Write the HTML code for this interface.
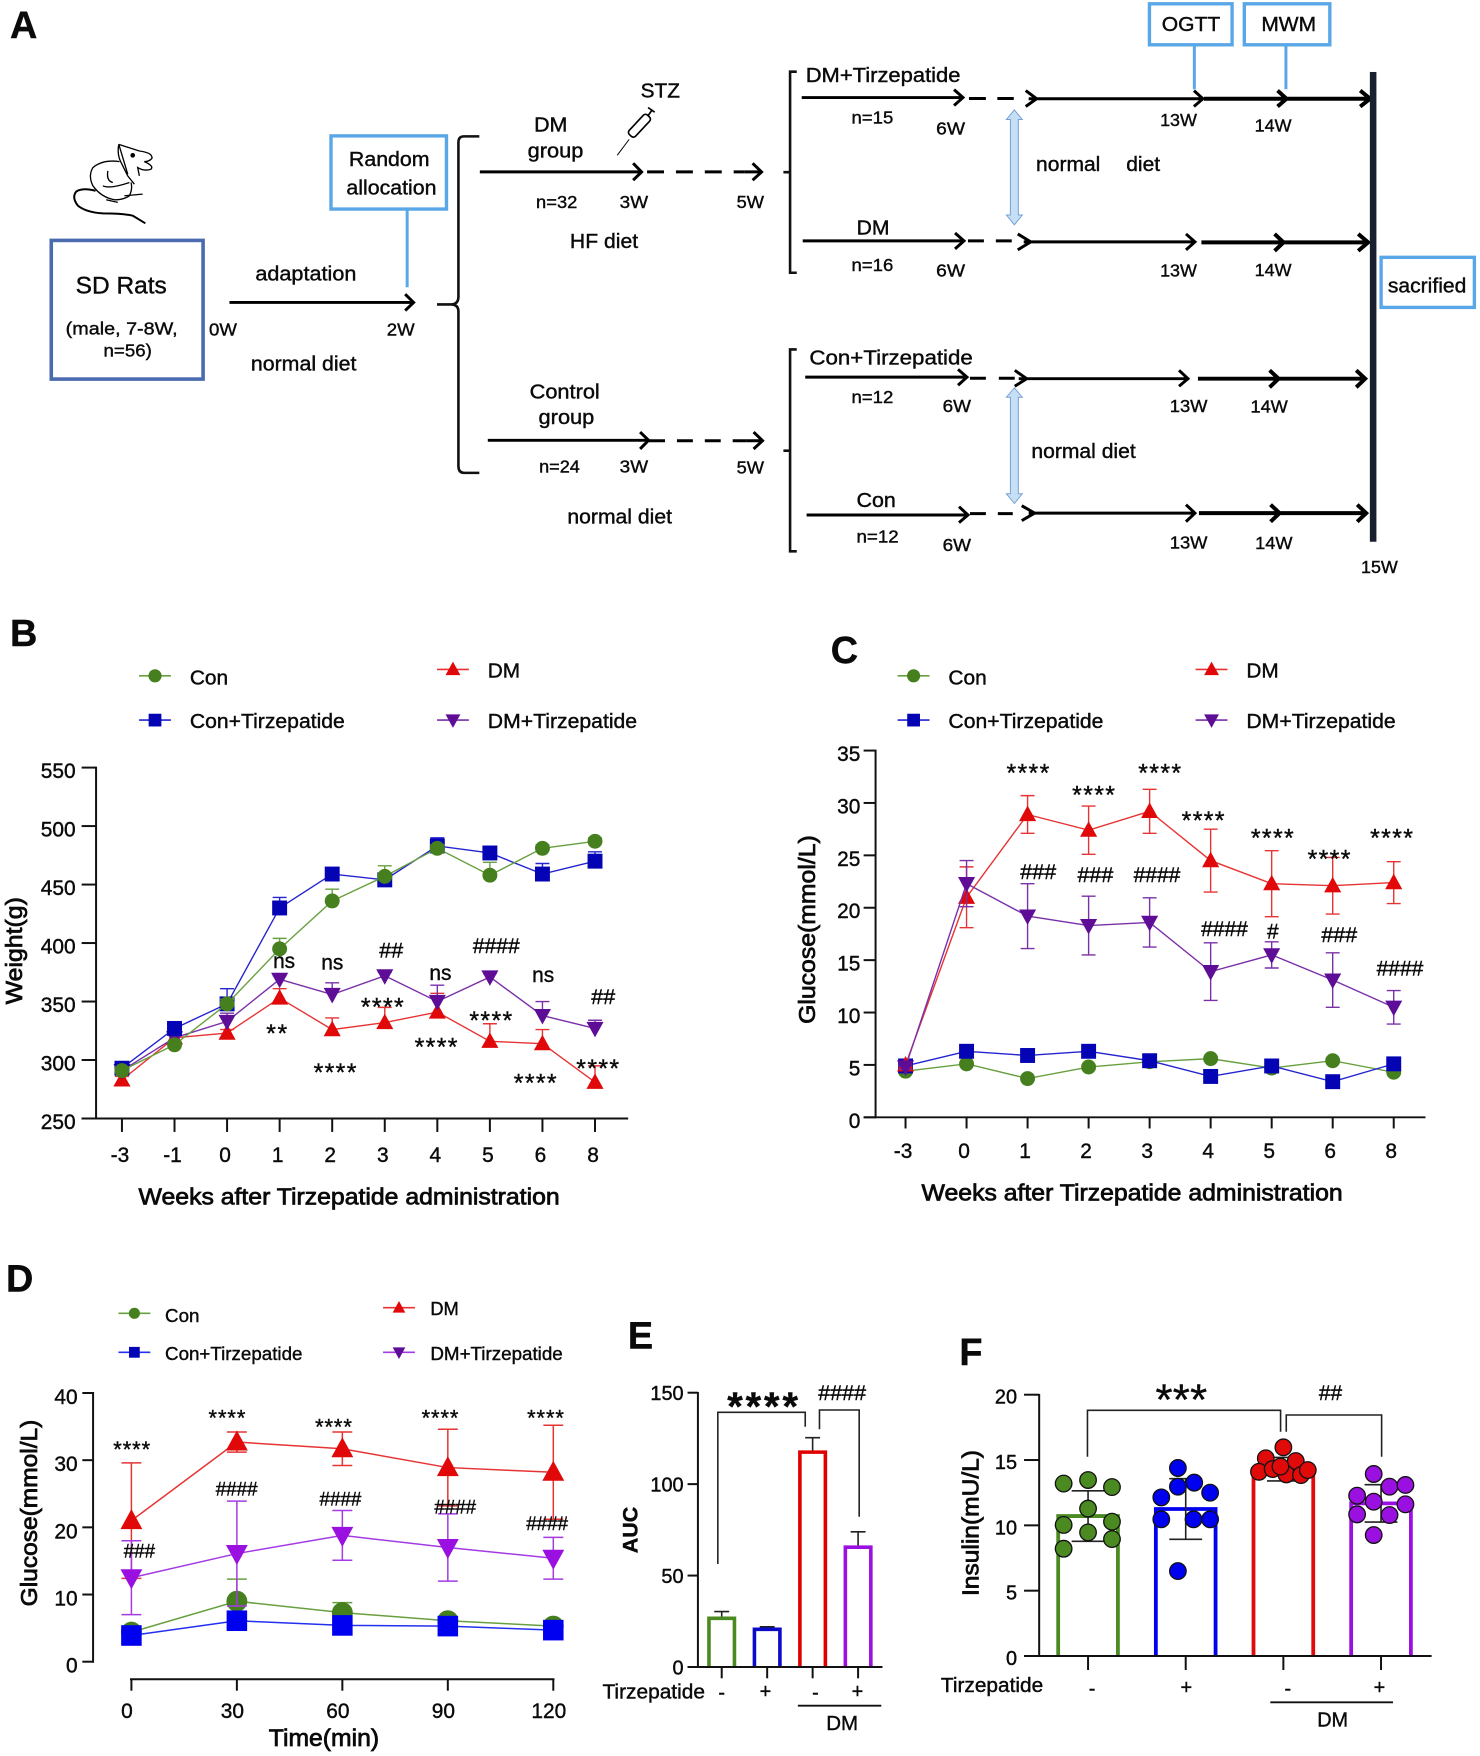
<!DOCTYPE html>
<html lang="en">
<head>
<meta charset="utf-8">
<title>Tirzepatide study design and results</title>
<style>
html,body{margin:0;padding:0;background:#fff;}
svg{display:block;filter:blur(.3px);}
text{font-family:"Liberation Sans",sans-serif;fill:#0a0a0a;stroke:#0a0a0a;stroke-width:.4;}
.letter{font-size:38px;font-weight:700;}
.t20{font-size:20px;}
.t18{font-size:18px;}
.ast{font-size:25px;text-anchor:middle;stroke-width:.4;}
.hash{font-size:21px;text-anchor:middle;}
.ast-d{font-size:22px;text-anchor:middle;stroke-width:.4;}
.hash-d{font-size:19px;text-anchor:middle;}
.ns{font-size:21px;text-anchor:middle;}
.ar{fill:none;stroke:#000;stroke-width:3;}
.ar4{fill:none;stroke:#000;stroke-width:4;}
.dash{fill:none;stroke:#000;stroke-width:3;}
.boxb{fill:#fff;stroke:#5aa7e8;stroke-width:3.4;}
.lnb{stroke:#5aa7e8;stroke-width:3;fill:none;}
.dbl{fill:#c5dff5;stroke:#7a9fd6;stroke-width:1;}
.brk{fill:none;stroke:#111;stroke-width:2.6;}
.sig{fill:none;stroke:#222;stroke-width:1.6;}
</style>
</head>
<body>
<svg id="figure" xmlns="http://www.w3.org/2000/svg" width="1480" height="1756" viewBox="0 0 1480 1756">
<rect width="1480" height="1756" fill="#fff"/>

<g id="panel-a">
 <g transform="scale(.9955)">
  <text class="letter" x="10" y="38">A</text>

  <g transform="translate(60 135) scale(.3333)" fill="none" stroke="#000" stroke-width="4">
    <path d="M178 30 L240 50 Q280 55 278 72 Q270 82 255 82 Q285 95 275 105 Q255 112 235 100 L240 125"/>
    <path d="M178 30 Q172 60 185 85 L205 125 L225 150 M178 30 L190 70 L205 120"/>
    <circle cx="220" cy="63" r="5" fill="#000"/>
    <path d="M180 82 Q130 75 100 100 Q85 125 100 155 Q125 190 165 197 Q190 198 210 185 Q220 165 215 145"/>
    <path d="M145 110 Q140 140 160 145 M130 155 Q150 165 210 145 M140 197 L175 205 M195 185 L250 180"/>
    <path stroke-width="6" d="M108 170 Q70 160 50 172 Q35 190 55 215 Q80 235 130 238 Q190 238 220 245 L258 268"/>
  </g>

  <rect x="51.5" y="241.5" width="152.5" height="139.3" fill="#fff" stroke="#4a6bb0" stroke-width="3.6"/>
  <text class="t20" x="76" y="295" style="font-size:24px" textLength="91.5" lengthAdjust="spacingAndGlyphs">SD Rats</text>
  <text class="t18" x="66" y="336" textLength="112.5" lengthAdjust="spacingAndGlyphs">(male,  7-8W,</text>
  <text class="t18" x="104" y="358" textLength="48.5" lengthAdjust="spacingAndGlyphs">n=56)</text>

  <text class="t18" x="210" y="337" textLength="28" lengthAdjust="spacingAndGlyphs">0W</text>
  <text class="t18" x="388.5" y="337" textLength="28" lengthAdjust="spacingAndGlyphs">2W</text>
  <path class="ar" d="M230.5 303.8H415 M407 295.5L415.5 303.8L407 312"/>
  <text class="t20" x="256.5" y="282" textLength="101.5" lengthAdjust="spacingAndGlyphs">adaptation</text>
  <text class="t20" x="252" y="372" textLength="106" lengthAdjust="spacingAndGlyphs">normal diet</text>

  <rect x="332.5" y="136.5" width="116" height="73.5" class="boxb"/>
  <text class="t20" x="350.5" y="167" textLength="81" lengthAdjust="spacingAndGlyphs">Random</text>
  <text class="t20" x="348" y="195.5" textLength="90.5" lengthAdjust="spacingAndGlyphs">allocation</text>
  <path class="lnb" d="M409 210V288.5"/>

  <path class="brk" d="M481.5 137H466Q460.5 137 460.5 143V298Q460.5 305.8 453 305.8H439H453Q460.5 305.8 460.5 313V468Q460.5 475 466 475H481.5"/>

  <text class="t20" x="536.5" y="132" textLength="33.5" lengthAdjust="spacingAndGlyphs">DM</text>
  <text class="t20" x="530" y="158" textLength="56" lengthAdjust="spacingAndGlyphs">group</text>
  <text class="t20" x="643.5" y="98" textLength="39.5" lengthAdjust="spacingAndGlyphs">STZ</text>
  <g transform="translate(610 100) scale(.3333)" fill="none" stroke="#000">
    <path stroke-width="3" d="M30 168 L66 120"/>
    <rect x="-13" y="-40" width="26" height="80" rx="9" transform="translate(97 79) rotate(43)" stroke-width="5"/>
    <path stroke-width="5" d="M122 50 L134 33 M123 24 L143 38"/>
  </g>
  <path class="ar" d="M482 172.7H644 M636 164L644.5 172.7L636 181"/>
  <path class="dash" stroke-dasharray="17 12" d="M650 172.7H748"/>
  <path class="ar" d="M748 172.7H765 M756 164L765 172.7L756 181"/>
  <text class="t18" x="538.5" y="209" textLength="41.5" lengthAdjust="spacingAndGlyphs">n=32</text>
  <text class="t18" x="622.5" y="209" textLength="28.5" lengthAdjust="spacingAndGlyphs">3W</text>
  <text class="t18" x="740" y="209" textLength="27.5" lengthAdjust="spacingAndGlyphs">5W</text>
  <text class="t20" x="572.5" y="249" textLength="68.5" lengthAdjust="spacingAndGlyphs">HF diet</text>

  <text class="t20" x="532" y="400.5" textLength="70.5" lengthAdjust="spacingAndGlyphs">Control</text>
  <text class="t20" x="541" y="426" textLength="56" lengthAdjust="spacingAndGlyphs">group</text>
  <path class="ar" d="M490 442.3H651 M643 434L651.5 442.3L643 451"/>
  <path class="dash" stroke-dasharray="16 12" d="M652 442.7H750"/>
  <path class="ar" d="M750 442.7H766 M757 434L766 442.7L757 451"/>
  <text class="t18" x="541.5" y="474.5" textLength="41" lengthAdjust="spacingAndGlyphs">n=24</text>
  <text class="t18" x="622.5" y="474.5" textLength="28.5" lengthAdjust="spacingAndGlyphs">3W</text>
  <text class="t18" x="740" y="475.5" textLength="27.5" lengthAdjust="spacingAndGlyphs">5W</text>
  <text class="t20" x="570" y="526" textLength="105" lengthAdjust="spacingAndGlyphs">normal diet</text>
 </g>

 <g transform="matrix(.9955 0 0 .9955 3.33 0)">
  <path class="brk" d="M797 72H790.3V274H797 M783.6 173H790.3"/>
  <path class="brk" d="M797 351H790.3V553.8H797 M783.6 452.7H790.3"/>

  <rect x="1151.3" y="3.8" width="83" height="41.2" class="boxb"/>
  <text class="t20" x="1163.6" y="31" textLength="58.8" lengthAdjust="spacingAndGlyphs">OGTT</text>
  <path class="lnb" d="M1196.4 45V89.6"/>
  <rect x="1246.6" y="3.8" width="85.9" height="41.2" class="boxb"/>
  <text class="t20" x="1263.7" y="31" textLength="55" lengthAdjust="spacingAndGlyphs">MWM</text>
  <path class="lnb" d="M1288.4 45V89.6"/>

  <text class="t20" x="806" y="82.5" textLength="155.5" lengthAdjust="spacingAndGlyphs">DM+Tirzepatide</text>
  <path class="ar" d="M802 98H963 M955 90L964 98L955 106"/>
  <path class="dash" d="M970 99H987 M998.5 99H1015"/>
  <path class="ar" d="M1027 91L1038 99.2L1027 107 M1030 99.2H1205 M1196 91L1205 99.2L1196 107"/>
  <path class="ar4" d="M1206 99.2H1372 M1280 91L1289 99.2L1280 107 M1363 91L1373 99.2L1363 107"/>
  <text class="t18" x="852" y="124" textLength="42" lengthAdjust="spacingAndGlyphs">n=15</text>
  <text class="t18" x="937" y="135" textLength="29" lengthAdjust="spacingAndGlyphs">6W</text>
  <text class="t18" x="1162" y="126.5" textLength="37" lengthAdjust="spacingAndGlyphs">13W</text>
  <text class="t18" x="1257" y="132" textLength="37" lengthAdjust="spacingAndGlyphs">14W</text>

  <path class="dbl" d="M1015.6 110.4L1023.6 120H1019.6V216H1023.6L1015.6 225.8L1007.6 216H1011.6V120H1007.6Z"/>
  <text class="t20" x="1037.4" y="172" textLength="64.6" lengthAdjust="spacingAndGlyphs">normal</text>
  <text class="t20" x="1128" y="172" textLength="34" lengthAdjust="spacingAndGlyphs">diet</text>

  <text class="t20" x="857.2" y="235.5" textLength="33" lengthAdjust="spacingAndGlyphs">DM</text>
  <path class="ar" d="M803 242H964 M956 234L965 242L956 250"/>
  <path class="dash" d="M969 242H985 M997 242H1013"/>
  <path class="ar" d="M1019 235L1032 243L1019 251 M1025 243H1197 M1188 235L1197 243L1188 251"/>
  <path class="ar4" d="M1203.5 243.5H1370 M1277 235L1286 243.5L1277 252 M1361 235L1371 243.5L1361 252"/>
  <text class="t18" x="852" y="272" textLength="42" lengthAdjust="spacingAndGlyphs">n=16</text>
  <text class="t18" x="937" y="277.5" textLength="29" lengthAdjust="spacingAndGlyphs">6W</text>
  <text class="t18" x="1162" y="277.5" textLength="37" lengthAdjust="spacingAndGlyphs">13W</text>
  <text class="t18" x="1257" y="277" textLength="37" lengthAdjust="spacingAndGlyphs">14W</text>

  <text class="t20" x="809.7" y="366" textLength="164.2" lengthAdjust="spacingAndGlyphs">Con+Tirzepatide</text>
  <path class="ar" d="M805.5 378.8H967 M959 371L968 378.8L959 387"/>
  <path class="dash" d="M971 380H987 M1000 380H1016"/>
  <path class="ar" d="M1016 372L1028 380.4L1016 388 M1020 380.4H1190 M1181 372L1190 380.4L1181 388"/>
  <path class="ar4" d="M1200 380.4H1367 M1272 372L1281 380.4L1272 389 M1359 372L1368 380.4L1359 389"/>
  <text class="t18" x="852" y="405" textLength="42" lengthAdjust="spacingAndGlyphs">n=12</text>
  <text class="t18" x="943.5" y="414" textLength="28.5" lengthAdjust="spacingAndGlyphs">6W</text>
  <text class="t18" x="1171.7" y="414" textLength="37.9" lengthAdjust="spacingAndGlyphs">13W</text>
  <text class="t18" x="1252.8" y="414.5" textLength="37.5" lengthAdjust="spacingAndGlyphs">14W</text>

  <path class="dbl" d="M1015.6 389.6L1023.6 399H1019.6V496H1023.6L1015.6 505.8L1007.6 496H1011.6V399H1007.6Z"/>
  <text class="t20" x="1032.7" y="460" textLength="104.8" lengthAdjust="spacingAndGlyphs">normal diet</text>

  <text class="t20" x="857" y="509.5" textLength="39.5" lengthAdjust="spacingAndGlyphs">Con</text>
  <path class="ar" d="M806.9 517.3H968 M960 509L969 517.3L960 525"/>
  <path class="dash" d="M971 516H987 M999 516H1014"/>
  <path class="ar" d="M1023 508L1036 515.4L1023 523 M1030 515.4H1197 M1188 507L1197 515.4L1188 524"/>
  <path class="ar4" d="M1201 515.4H1368 M1273 507L1282 515.4L1273 524 M1360 507L1369 515.4L1360 524"/>
  <text class="t18" x="857" y="545" textLength="42.4" lengthAdjust="spacingAndGlyphs">n=12</text>
  <text class="t18" x="943.5" y="553.5" textLength="28.5" lengthAdjust="spacingAndGlyphs">6W</text>
  <text class="t18" x="1171.7" y="551" textLength="37.9" lengthAdjust="spacingAndGlyphs">13W</text>
  <text class="t18" x="1257.5" y="551.5" textLength="37.5" lengthAdjust="spacingAndGlyphs">14W</text>

  <rect x="1372.7" y="72.3" width="6.6" height="471.9" fill="#1a2030"/>
  <text class="t18" x="1363.8" y="575.5" textLength="37" lengthAdjust="spacingAndGlyphs">15W</text>
  <rect x="1384" y="258.5" width="93.7" height="50.3" class="boxb"/>
  <text class="t20" x="1390.8" y="294" textLength="78.8" lengthAdjust="spacingAndGlyphs">sacrified</text>
 </g>
</g>

<g id="panel-b" transform="matrix(.9955 0 0 .9955 0 2.05)">
  <text class="letter" x="10" y="647">B</text>
</g>
<g id="panel-c" transform="matrix(.9955 0 0 .9955 3.51 2.05)">
  <text class="letter" x="831" y="664">C</text>
</g>
<g id="panel-d" transform="matrix(.9955 0 0 1 0 0)">
  <text class="letter" x="6" y="1291.7">D</text>
</g>
<g id="panel-e" transform="matrix(.9955 0 0 1 2.66 0)">
  <text class="letter" x="628" y="1348.3">E</text>
  <path class="sig" d="M718.4 1564V1412.3H806.2V1426.7"/>
  <path class="sig" d="M820.5 1429.3V1410H860.4V1516.7"/>
  <text class="ast" style="font-size:40px;font-weight:700" x="763.4" y="1420" textLength="71" lengthAdjust="spacing">****</text>
  <text class="hash" x="843.3" y="1400" textLength="48" lengthAdjust="spacingAndGlyphs">####</text>
  <text class="t20" x="602.5" y="1698.5" textLength="103" lengthAdjust="spacingAndGlyphs">Tirzepatide</text>
  <text class="t20" x="722.3" y="1699" text-anchor="middle">-</text>
  <text class="t20" x="766.3" y="1698" text-anchor="middle">+</text>
  <text class="t20" x="816.5" y="1699" text-anchor="middle">-</text>
  <text class="t20" x="858.7" y="1698" text-anchor="middle">+</text>
  <path d="M798.8 1705.7H882.6" stroke="#111" stroke-width="1.8"/>
  <text class="t20" x="843.3" y="1730" text-anchor="middle" textLength="32" lengthAdjust="spacingAndGlyphs">DM</text>
</g>
<g id="panel-f" transform="matrix(.9955 0 0 1 2.66 0)">
  <text class="letter" x="961" y="1365">F</text>
  <path class="sig" d="M1089.7 1456.7V1410.3H1283.7V1431.7"/>
  <path class="sig" d="M1289.4 1431.7V1415H1385.2V1456.7"/>
  <text class="ast" style="font-size:44px" x="1184" y="1414.5" textLength="52" lengthAdjust="spacing">***</text>
  <text class="hash" x="1333.9" y="1400" textLength="23.4" lengthAdjust="spacingAndGlyphs">##</text>
  <text class="t20" x="942.5" y="1692" textLength="102.7" lengthAdjust="spacingAndGlyphs">Tirzepatide</text>
  <text class="t20" x="1094.3" y="1695" text-anchor="middle">-</text>
  <text class="t20" x="1189" y="1694" text-anchor="middle">+</text>
  <text class="t20" x="1291" y="1695" text-anchor="middle">-</text>
  <text class="t20" x="1383" y="1694" text-anchor="middle">+</text>
  <path d="M1273.4 1702.3H1396.6" stroke="#111" stroke-width="1.8"/>
  <text class="t20" x="1336" y="1726.5" text-anchor="middle" textLength="31" lengthAdjust="spacingAndGlyphs">DM</text>
</g>

<g transform="matrix(.9955 0 0 .9955 0 2.05)">
  <text class="ns" x="285.4" y="970.5">ns</text>
  <text class="ns" x="333.8" y="972">ns</text>
  <text class="ns" x="442.4" y="982.4">ns</text>
  <text class="ns" x="545.6" y="984.5">ns</text>
  <text class="hash" x="393" y="960" textLength="24" lengthAdjust="spacingAndGlyphs">##</text>
  <text class="hash" x="498.5" y="955.4" textLength="47" lengthAdjust="spacingAndGlyphs">####</text>
  <text class="hash" x="606" y="1006.4" textLength="24" lengthAdjust="spacingAndGlyphs">##</text>
  <text class="ast" x="278" y="1044.6" textLength="21" lengthAdjust="spacing">**</text>
  <text class="ast" x="336.5" y="1084" textLength="43" lengthAdjust="spacing">****</text>
  <text class="ast" x="384" y="1018" textLength="43" lengthAdjust="spacing">****</text>
  <text class="ast" x="438" y="1058" textLength="43" lengthAdjust="spacing">****</text>
  <text class="ast" x="493" y="1031.6" textLength="43" lengthAdjust="spacing">****</text>
  <text class="ast" x="537.6" y="1094.4" textLength="43" lengthAdjust="spacing">****</text>
  <text class="ast" x="600.4" y="1079.6" textLength="43" lengthAdjust="spacing">****</text>
</g>
<g transform="matrix(.9955 0 0 .9955 3.51 2.05)">
  <text class="ast" x="1029" y="782.8" textLength="43" lengthAdjust="spacing">****</text>
  <text class="ast" x="1095" y="805" textLength="43" lengthAdjust="spacing">****</text>
  <text class="ast" x="1161.4" y="782.8" textLength="43" lengthAdjust="spacing">****</text>
  <text class="ast" x="1205" y="830.5" textLength="43" lengthAdjust="spacing">****</text>
  <text class="ast" x="1274.5" y="848.4" textLength="43" lengthAdjust="spacing">****</text>
  <text class="ast" x="1331.5" y="869.4" textLength="43" lengthAdjust="spacing">****</text>
  <text class="ast" x="1394.3" y="848.4" textLength="43" lengthAdjust="spacing">****</text>
  <text class="hash" x="1039.4" y="880.9" textLength="36" lengthAdjust="spacingAndGlyphs">###</text>
  <text class="hash" x="1096.8" y="883.7" textLength="36" lengthAdjust="spacingAndGlyphs">###</text>
  <text class="hash" x="1158.7" y="883.7" textLength="47" lengthAdjust="spacingAndGlyphs">####</text>
  <text class="hash" x="1226.5" y="938.4" textLength="47" lengthAdjust="spacingAndGlyphs">####</text>
  <text class="hash" x="1275" y="940.9">#</text>
  <text class="hash" x="1341.8" y="944.1" textLength="36" lengthAdjust="spacingAndGlyphs">###</text>
  <text class="hash" x="1402.8" y="977.9" textLength="47" lengthAdjust="spacingAndGlyphs">####</text>
</g>
<g transform="matrix(.9955 0 0 1 0 0)">
  <text class="ast-d" x="132.3" y="1457.2" textLength="37" lengthAdjust="spacing">****</text>
  <text class="ast-d" x="228" y="1425.6" textLength="37" lengthAdjust="spacing">****</text>
  <text class="ast-d" x="335" y="1434.6" textLength="37" lengthAdjust="spacing">****</text>
  <text class="ast-d" x="442" y="1425.6" textLength="37" lengthAdjust="spacing">****</text>
  <text class="ast-d" x="548" y="1425.6" textLength="37" lengthAdjust="spacing">****</text>
  <text class="hash-d" x="140" y="1557.4" textLength="31.5" lengthAdjust="spacingAndGlyphs">###</text>
  <text class="hash-d" x="237.7" y="1495.4" textLength="42" lengthAdjust="spacingAndGlyphs">####</text>
  <text class="hash-d" x="342" y="1505.7" textLength="42" lengthAdjust="spacingAndGlyphs">####</text>
  <text class="hash-d" x="457.3" y="1513.7" textLength="42" lengthAdjust="spacingAndGlyphs">####</text>
  <text class="hash-d" x="549.6" y="1530" textLength="42" lengthAdjust="spacingAndGlyphs">####</text>
</g>
</svg>

<script>
// Panel B: body weight
const bCategories = ['-3','-1','0','1','2','3','4','5','6','8'];
const bTicks = [250,300,350,400,450,500,550];
const bCon = [291,313,348,395,436,457,481,458,481,487];
const bConT = [293,327,348,430,459,454,483,477,459,470];
const bDm = [283,319,323,353,326,332,341,316,314,281];
const bDmT = [291,319,333,369,356,372,350,371,338,327];
const bConErr = [3,3,4,9,10,9,3,11,3,3];
const bConTErr = [3,3,13,9,3,3,7,3,9,8];
const bDmErr = [3,3,3,8,10,13,16,15,12,14];
const bDmTErr = [3,3,7,3,10,3,14,3,12,7];

// Panel C: fasting glucose
const cCategories = ['-3','0','1','2','3','4','5','6','8'];
const cTicks = [0,5,10,15,20,25,30,35];
const cCon = [4.4,5.1,3.7,4.8,5.3,5.6,4.7,5.4,4.3];
const cConT = [4.9,6.3,5.9,6.3,5.4,3.9,4.9,3.4,5.1];
const cDm = [5.0,21.0,28.9,27.4,29.2,24.5,22.3,22.1,22.4];
const cDmT = [4.8,22.3,19.2,18.3,18.6,13.9,15.5,13.1,10.5];
const cConErr = [0.2,0.2,0.2,0.2,0.2,0.2,0.2,0.2,0.2];
const cConTErr = [0.2,0.2,0.2,0.2,0.2,0.2,0.2,0.2,0.2];
const cDmErr = [0.2,2.9,1.8,2.3,2.1,3.0,3.15,2.7,2.0];
const cDmTErr = [0.2,2.2,3.1,2.8,2.35,2.75,1.25,2.6,1.6];

// Panel D: OGTT
const dCategories = ['0','30','60','90','120'];
const dTicks = [0,10,20,30,40];
const dCon = [4.4,9.0,7.3,6.1,5.3];
const dConT = [3.9,6.1,5.4,5.3,4.7];
const dDm = [21.0,32.7,31.7,28.9,28.2];
const dDmT = [12.5,16.1,18.8,17.0,15.4];
const dConErr = [0.5,3.3,1.5,0.6,0.6];
const dConTErr = [0.5,0.5,0.5,0.5,0.5];
const dDmErr = [8.6,1.5,2.5,5.7,7.0];
const dDmTErr = [5.5,7.8,3.7,5.0,3.1];

// Panel E: AUC
const eTicks = [0,50,100,150];
const eValues = [26.6,20.6,117.5,65.5];
const eErrors = [3.7,1.4,7.9,8.4];

// Panel F: insulin
const fTicks = [0,5,10,15,20];
const fValues = [10.71,11.25,14.3,11.68];
const fErrors = [1.93,2.32,0.9,1.43];
const fGreenDots = [13.2,13.47,12.93,11.28,10.03,10.28,9.46,8.95,8.21];
const fBlueDots = [14.39,13.27,12.96,12.14,12.5,10.46,10.46,10.46,6.5];
const fRedDots = [15.97,15.13,14.92,14.1,14.31,13.9,13.85,14.23,14.5];
const fPurpleDots = [13.93,12.96,13.09,12.27,11.81,11.61,10.84,10.79,9.26];
const fGreenSwarm = [-.25,0,.245,0,-.25,.245,0,.245,-.25];
const fBlueSwarm = [-.08,.087,-.08,-.25,.25,-.25,.08,.25,-.08];
const fRedSwarm = [0,-.18,.127,-.25,-.11,.03,.18,.25,-.03];
const fPurpleSwarm = [-.075,.087,.25,-.245,-.075,.25,-.245,.087,-.075];

const NS = 'http://www.w3.org/2000/svg';

function el(tag, attrs, parent) {
  const node = document.createElementNS(NS, tag);
  for (const k in attrs) node.setAttribute(k, attrs[k]);
  parent.appendChild(node);
  return node;
}

function lin(d0, d1, r0, r1) {
  return function (v) { return r0 + (v - d0) * (r1 - r0) / (d1 - d0); };
}

function band(x0, x1, n) {
  return function (i) { return x0 + i * (x1 - x0) / (n - 1); };
}

function label(parent, name, str, x, y, size, anchor, len, rot, weight, heavy) {
  const t = el('text', {x: x, y: y, 'font-size': size, 'text-anchor': anchor}, parent);
  
  
  if (len) { t.setAttribute('textLength', len); t.setAttribute('lengthAdjust', 'spacingAndGlyphs'); }
  if (rot) t.setAttribute('transform', 'rotate(-90 ' + x + ' ' + y + ')');
  if (weight) t.style.fontWeight = weight;
  if (heavy) t.style.strokeWidth = heavy;
  t.textContent = str;
  return t;
}

function axisLine(parent, name, x1, y1, x2, y2) {
  const l = el('line', {x1: x1, y1: y1, x2: x2, y2: y2, stroke: '#111', 'stroke-width': 2}, parent);
  
  
  return l;
}

function marker(parent, name, kind, cx, cy, s, color) {
  let m;
  if (kind === 'circle') {
    m = el('circle', {cx: cx, cy: cy, r: s, fill: color}, parent);
  } else if (kind === 'square') {
    m = el('rect', {x: cx - s, y: cy - s, width: 2 * s, height: 2 * s, fill: color}, parent);
  } else if (kind === 'up') {
    m = el('polygon', {points: (cx - s * 1.1) + ',' + (cy + s * .85) + ' ' + (cx + s * 1.1) + ',' + (cy + s * .85) + ' ' + cx + ',' + (cy - s * 1.15), fill: color}, parent);
  } else {
    m = el('polygon', {points: (cx - s * 1.1) + ',' + (cy - s * .85) + ' ' + (cx + s * 1.1) + ',' + (cy - s * .85) + ' ' + cx + ',' + (cy + s * 1.15), fill: color}, parent);
  }
  
  
  return m;
}

function drawSeries(parent, name, cats, vals, errs, x, y, style, both) {
  const g = el('g', {}, parent);
  
  
  const pts = vals.map(function (v, i) { return x(i) + ',' + y(v); }).join(' ');
  const line = el('polyline', {points: pts, fill: 'none', stroke: style.line, 'stroke-width': style.width}, g);
  
  
  vals.forEach(function (v, i) {
    const top = y(v + errs[i]);
    const bot = both ? y(v - errs[i]) : y(v);
    const cx = x(i);
    const e = el('path', {d: 'M' + cx + ' ' + bot + 'V' + top + 'M' + (cx - style.cap) + ' ' + top + 'H' + (cx + style.cap) + (both ? 'M' + (cx - style.cap) + ' ' + bot + 'H' + (cx + style.cap) : ''), fill: 'none', stroke: style.line, 'stroke-width': style.width}, g);
    
    
  });
  vals.forEach(function (v, i) {
    marker(g, name + '-point-' + cats[i], style.kind, x(i), y(v), style.size, style.color);
  });
}

function legendEntry(parent, name, str, mx, my, tx, ty, size, len, style) {
  const g = el('g', {}, parent);
  
  
  const l = el('line', {x1: mx - 16, y1: my, x2: mx + 16, y2: my, stroke: style.line, 'stroke-width': 1.6}, g);
  
  
  marker(g, 'legend-marker-' + name, style.kind, mx, my, style.legendSize, style.legendColor || style.color);
  label(g, 'legend-label-' + name, str, tx, ty, size, 'start', len);
}

const GREEN = {kind: 'circle', color: '#46801e', line: '#68a040', size: 7.5, legendSize: 6.6, cap: 7, width: 1.4};
const BLUE = {kind: 'square', color: '#0404b4', line: '#2424d0', size: 7.5, legendSize: 6.4, cap: 7, width: 1.4};
const RED = {kind: 'up', color: '#e00808', line: '#e63434', size: 7.8, legendSize: 6.8, cap: 7, width: 1.4};
const PURPLE = {kind: 'down', color: '#5e0e96', line: '#7a30a8', size: 7.8, legendSize: 6.8, cap: 7, width: 1.4};

function legends(parent, dx) {
  legendEntry(parent, 'con', 'Con', 155.7 + dx, 676.8, 190.7 + dx, 685.5, 20, 38.5, GREEN);
  legendEntry(parent, 'dm', 'DM', 455 + dx, 670.4, 490 + dx, 678.5, 20, 32.5, RED);
  legendEntry(parent, 'con-tirzepatide', 'Con+Tirzepatide', 155.7 + dx, 721.3, 190.7 + dx, 729, 20, 155.7, BLUE);
  legendEntry(parent, 'dm-tirzepatide', 'DM+Tirzepatide', 455 + dx, 721.3, 490 + dx, 729, 20, 150, PURPLE);
}

// ---------- Panel B ----------
(function () {
  const root = document.getElementById('panel-b');
  const x = band(122.5, 597.7, bCategories.length);
  const y = lin(250, 550, 1121.5, 769);
  legends(root, 0);
  axisLine(root, 'y-axis', 96.5, 768, 96.5, 1122.5);
  axisLine(root, 'x-axis', 82, 1121.5, 631, 1121.5);
  bTicks.forEach(function (t) {
    axisLine(root, 'y-tick-' + t, 82, y(t), 96.5, y(t));
    label(root, 'y-tick-label-' + t, String(t), 76, y(t) + 10.5, 21, 'end');
  });
  bCategories.forEach(function (c, i) {
    axisLine(root, 'x-tick-' + c, x(i), 1121.5, x(i), 1135);
    label(root, 'x-tick-label-' + c, c, x(i) - 2, 1165, 21, 'middle');
  });
  label(root, 'x-axis-title', 'Weeks after Tirzepatide administration', 350.7, 1208, 23, 'middle', 423, false, null, .75);
  label(root, 'y-axis-title', 'Weight(g)', 22, 953, 23, 'middle', 107.7, true, null, .75);
  drawSeries(root, 'dm', bCategories, bDm, bDmErr, x, y, RED, false);
  drawSeries(root, 'dm-tirzepatide', bCategories, bDmT, bDmTErr, x, y, PURPLE, false);
  drawSeries(root, 'con-tirzepatide', bCategories, bConT, bConTErr, x, y, BLUE, false);
  drawSeries(root, 'con', bCategories, bCon, bConErr, x, y, GREEN, false);
})();

// ---------- Panel C ----------
(function () {
  const root = document.getElementById('panel-c');
  const x = band(906.1, 1396.5, cCategories.length);
  const y = lin(0, 35, 1120.3, 751.9);
  legends(root, 758.5);
  axisLine(root, 'y-axis', 876, 751, 876, 1121.3);
  axisLine(root, 'x-axis', 864, 1120.3, 1428.4, 1120.3);
  cTicks.forEach(function (t) {
    axisLine(root, 'y-tick-' + t, 864, y(t), 876, y(t));
    label(root, 'y-tick-label-' + t, String(t), 860.8, y(t) + 10.5, 21, 'end');
  });
  cCategories.forEach(function (c, i) {
    axisLine(root, 'x-tick-' + c, x(i), 1120.3, x(i), 1131.5);
    label(root, 'x-tick-label-' + c, c, x(i) - 2.5, 1161, 21, 'middle');
  });
  label(root, 'x-axis-title', 'Weeks after Tirzepatide administration', 1133.7, 1204, 23, 'middle', 423, false, null, .75);
  label(root, 'y-axis-title', 'Glucose(mmol/L)', 815, 931.7, 23, 'middle', 189.5, true, null, .75);
  drawSeries(root, 'con', cCategories, cCon, cConErr, x, y, GREEN, true);
  drawSeries(root, 'con-tirzepatide', cCategories, cConT, cConTErr, x, y, BLUE, true);
  drawSeries(root, 'dm', cCategories, cDm, cDmErr, x, y, RED, true);
  drawSeries(root, 'dm-tirzepatide', cCategories, cDmT, cDmTErr, x, y, PURPLE, true);
})();

// ---------- Panel D ----------
(function () {
  const root = document.getElementById('panel-d');
  const x = band(132, 555.8, dCategories.length);
  const y = lin(0, 40, 1661.7, 1393);
  const dGreen = {kind: 'circle', color: '#46801e', line: '#68a040', size: 10.5, legendSize: 5.6, cap: 10, width: 1.5};
  const dBlue = {kind: 'square', color: '#0000f0', line: '#2430f0', size: 10.3, legendSize: 5.4, cap: 10, width: 1.5, legendColor: '#0404b4'};
  const dRed = {kind: 'up', color: '#e00808', line: '#e63434', size: 10, legendSize: 5.8, cap: 10, width: 1.5};
  const dPurple = {kind: 'down', color: '#9a10e0', line: '#a43ae4', size: 10, legendSize: 5.8, cap: 10, width: 1.5, legendColor: '#5e0e96'};
  legendEntry(root, 'con', 'Con', 135, 1313.3, 165.8, 1322, 18.7, 34.5, dGreen);
  legendEntry(root, 'dm', 'DM', 400.8, 1307.7, 432.3, 1315, 18.7, 28.5, dRed);
  legendEntry(root, 'con-tirzepatide', 'Con+Tirzepatide', 135, 1352.3, 165.8, 1360, 18.7, 138, dBlue);
  legendEntry(root, 'dm-tirzepatide', 'DM+Tirzepatide', 400.8, 1352.3, 432.3, 1360, 18.7, 133, dPurple);
  axisLine(root, 'y-axis', 93.5, 1392, 93.5, 1662.7);
  axisLine(root, 'x-axis', 130.6, 1679.3, 557, 1679.3);
  dTicks.forEach(function (t) {
    axisLine(root, 'y-tick-' + t, 82.7, y(t), 93.5, y(t));
    label(root, 'y-tick-label-' + t, String(t), 78, y(t) + 11, 21, 'end');
  });
  dCategories.forEach(function (c, i) {
    axisLine(root, 'x-tick-' + c, x(i), 1679.3, x(i), 1690.7);
    label(root, 'x-tick-label-' + c, c, x(i) - 4.5, 1718, 21, 'middle');
  });
  label(root, 'x-axis-title', 'Time(min)', 325.4, 1746, 24, 'middle', 110.8, false, null, .75);
  label(root, 'y-axis-title', 'Glucose(mmol/L)', 37, 1513, 23, 'middle', 186.7, true, null, .75);
  drawSeries(root, 'con', dCategories, dCon, dConErr, x, y, dGreen, false);
  drawSeries(root, 'dm', dCategories, dDm, dDmErr, x, y, dRed, true);
  drawSeries(root, 'dm-tirzepatide', dCategories, dDmT, dDmTErr, x, y, dPurple, true);
  drawSeries(root, 'con-tirzepatide', dCategories, dConT, dConTErr, x, y, dBlue, false);
})();

// ---------- Bars ----------
function drawBar(parent, name, cx, halfW, value, y, y0, color, stroke) {
  const bar = el('path', {d: 'M' + (cx - halfW) + ' ' + y0 + 'V' + y(value) + 'H' + (cx + halfW) + 'V' + y0, fill: '#fff', stroke: color, 'stroke-width': stroke}, parent);
  
  
  return bar;
}

(function () {
  const root = document.getElementById('panel-e');
  const colors = ['#4a8a20', '#0a0ac8', '#e00000', '#9a10e0'];
  const names = ['con', 'con-tirzepatide', 'dm', 'dm-tirzepatide'];
  const x = band(722.3, 859.3, eValues.length);
  const y = lin(0, 150, 1667, 1392.7);
  eValues.forEach(function (v, i) {
    const err = el('path', {d: 'M' + x(i) + ' ' + y(v) + 'V' + y(v + eErrors[i]) + 'M' + (x(i) - 7.5) + ' ' + y(v + eErrors[i]) + 'H' + (x(i) + 7.5), fill: 'none', stroke: '#222', 'stroke-width': 1.6}, root);
    
    
    drawBar(root, names[i], x(i), 12.8, v, y, 1667, colors[i], 3.6);
  });
  axisLine(root, 'y-axis', 698.4, 1392, 698.4, 1668);
  axisLine(root, 'x-axis', 688, 1667, 883.8, 1667);
  eTicks.forEach(function (t) {
    axisLine(root, 'y-tick-' + t, 688, y(t), 698.4, y(t));
    label(root, 'y-tick-label-' + t, String(t), 684, y(t) + 7.5, 20, 'end');
  });
  eValues.forEach(function (v, i) {
    axisLine(root, 'x-tick-' + names[i], x(i), 1667, x(i), 1678.3);
  });
  label(root, 'y-axis-title', 'AUC', 637.5, 1530, 21, 'middle', 46.6, true, 700);
})();

function drawDots(parent, name, vals, swarm, cx, bandW, y, color) {
  vals.forEach(function (v, i) {
    const d = el('circle', {cx: cx + swarm[i] * bandW, cy: y(v), r: 8.3, fill: color, stroke: '#111', 'stroke-width': 1.3}, parent);
    
    
  });
}

(function () {
  const root = document.getElementById('panel-f');
  const colors = ['#4a8a20', '#0000f0', '#e00a0a', '#9a10e0'];
  const names = ['con', 'con-tirzepatide', 'dm', 'dm-tirzepatide'];
  const x = band(1090.3, 1384.6, fValues.length);
  const y = lin(0, 20, 1656, 1394.7);
  const step = 98.1;
  const dots = [fGreenDots, fBlueDots, fRedDots, fPurpleDots];
  const swarms = [fGreenSwarm, fBlueSwarm, fRedSwarm, fPurpleSwarm];
  fValues.forEach(function (v, i) {
    drawBar(root, names[i], x(i), 30, v, y, 1656, colors[i], 3.8);
    const up = y(v + fErrors[i]);
    const lo = y(v - fErrors[i]);
    const err = el('path', {d: 'M' + x(i) + ' ' + lo + 'V' + up + 'M' + (x(i) - 16.5) + ' ' + up + 'H' + (x(i) + 16.5) + 'M' + (x(i) - 16.5) + ' ' + lo + 'H' + (x(i) + 16.5), fill: 'none', stroke: '#222', 'stroke-width': 1.6}, root);
    
    
    drawDots(root, names[i], dots[i], swarms[i], x(i), step, y, colors[i]);
  });
  axisLine(root, 'y-axis', 1041.2, 1394, 1041.2, 1657);
  axisLine(root, 'x-axis', 1026, 1656, 1435.4, 1656);
  fTicks.forEach(function (t) {
    axisLine(root, 'y-tick-' + t, 1026, y(t), 1041.2, y(t));
    label(root, 'y-tick-label-' + t, String(t), 1019, y(t) + 9, 20, 'end');
  });
  fValues.forEach(function (v, i) {
    axisLine(root, 'x-tick-' + names[i], x(i), 1656, x(i), 1670);
  });
  label(root, 'y-axis-title', 'Insulin(mU/L)', 980.3, 1523, 23, 'middle', 146, true, null, .75);
})();
</script>
</body>
</html>
